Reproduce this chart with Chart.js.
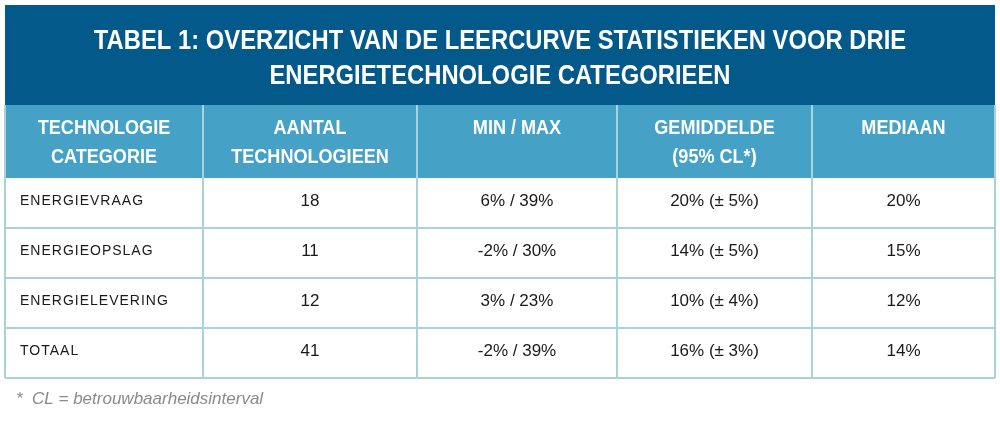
<!DOCTYPE html>
<html>
<head>
<meta charset="utf-8">
<script src="https://cdn.jsdelivr.net/npm/chart.js@4/dist/chart.umd.min.js"></script>
<style>
  html, body { margin: 0; padding: 0; background: #fff; }
  #wrap { width: 1000px; height: 421px; }
</style>
</head>
<body>
<div id="wrap"><canvas id="tabel"></canvas></div>
<script>
// table content
const titleLines = ["TABEL 1: OVERZICHT VAN DE LEERCURVE STATISTIEKEN VOOR DRIE", "ENERGIETECHNOLOGIE CATEGORIEEN"];
const headers = [["TECHNOLOGIE", "CATEGORIE"], ["AANTAL", "TECHNOLOGIEEN"], ["MIN / MAX"], ["GEMIDDELDE", "(95% CL*)"], ["MEDIAAN"]];
const categories = ["ENERGIEVRAAG", "ENERGIEOPSLAG", "ENERGIELEVERING", "TOTAAL"];
const aantal = ["18", "11", "12", "41"];
const minMax = ["6% / 39%", "-2% / 30%", "3% / 23%", "-2% / 39%"];
const gemiddelde = ["20% (± 5%)", "14% (± 5%)", "10% (± 4%)", "16% (± 3%)"];
const mediaan = ["20%", "15%", "12%", "14%"];
const footnote = "*  CL = betrouwbaarheidsinterval";

// layout (in scale units = page pixels)
const colEdges = [5, 203, 417, 617, 812, 995];
const titleTop = 5, headTop = 105, bodyTop = 178, rowH = 50;

// draw text squeezed horizontally (no narrow font installed)
function narrowText(ctx, text, x, y, sx) {
  ctx.save();
  ctx.translate(x, y);
  ctx.scale(sx, 1);
  ctx.fillText(text, 0, 0);
  ctx.restore();
}

const tablePlugin = {
  id: 'tablePlugin',
  afterDraw(chart) {
    const ctx = chart.ctx;
    const xs = chart.scales.x, ys = chart.scales.y;
    const px = v => xs.getPixelForValue(v);
    const py = v => ys.getPixelForValue(v);
    const L = px(colEdges[0]), R = px(colEdges[colEdges.length - 1]);
    const bodyBottom = bodyTop + rowH * categories.length;

    ctx.save();
    // title band
    ctx.fillStyle = '#03598a';
    ctx.fillRect(L, py(titleTop), R - L, py(headTop) - py(titleTop));
    ctx.fillStyle = '#ffffff';
    ctx.textAlign = 'center';
    ctx.textBaseline = 'middle';
    ctx.font = 'bold 28px "Liberation Sans", Arial, sans-serif';
    narrowText(ctx, titleLines[0], (L + R) / 2, py(41), 0.85);
    narrowText(ctx, titleLines[1], (L + R) / 2, py(76), 0.85);

    // header row
    ctx.fillStyle = '#45a1c5';
    ctx.fillRect(L, py(headTop), R - L, py(bodyTop) - py(headTop));
    ctx.fillStyle = '#ffffff';
    ctx.font = 'bold 21px "Liberation Sans", Arial, sans-serif';
    headers.forEach((h, i) => {
      const cx = (px(colEdges[i]) + px(colEdges[i + 1])) / 2;
      h.forEach((t, j) => narrowText(ctx, t, cx, py(headTop + 23 + j * 29), 0.86));
    });

    // grid lines
    ctx.strokeStyle = '#a9d2da';
    ctx.lineWidth = 2;
    ctx.beginPath();
    colEdges.forEach(x => {
      ctx.moveTo(px(x), py(headTop));
      ctx.lineTo(px(x), py(bodyBottom));
    });
    for (let r = 1; r <= categories.length; r++) {
      ctx.moveTo(L, py(bodyTop + r * rowH));
      ctx.lineTo(R, py(bodyTop + r * rowH));
    }
    ctx.stroke();

    // body
    const cols = [aantal, minMax, gemiddelde, mediaan];
    categories.forEach((c, r) => {
      const cy = py(bodyTop + r * rowH + rowH / 2 - 2);
      ctx.fillStyle = '#1a1a1a';
      ctx.textAlign = 'left';
      ctx.font = '14px "Liberation Sans", Arial, sans-serif';
      ctx.letterSpacing = '1px';
      ctx.fillText(c, px(20), cy);
      ctx.letterSpacing = '0px';
      ctx.textAlign = 'center';
      ctx.font = '17px "Liberation Sans", Arial, sans-serif';
      cols.forEach((arr, i) => {
        const cx = (px(colEdges[i + 1]) + px(colEdges[i + 2])) / 2;
        ctx.fillText(arr[r], cx, cy);
      });
    });

    // footnote
    ctx.textAlign = 'left';
    ctx.fillStyle = '#8a8a8a';
    ctx.font = 'italic 17px "Liberation Sans", Arial, sans-serif';
    ctx.fillText(footnote, px(16), py(399));
    ctx.restore();
  }
};

new Chart(document.getElementById('tabel'), {
  type: 'scatter',
  data: { datasets: [{ data: [] }] },
  options: {
    responsive: true,
    maintainAspectRatio: false,
    animation: false,
    layout: { padding: 0 },
    plugins: { legend: { display: false }, tooltip: { enabled: false } },
    scales: {
      x: { type: 'linear', min: 0, max: 1000, display: false },
      y: { type: 'linear', min: 0, max: 421, reverse: true, display: false }
    }
  },
  plugins: [tablePlugin]
});
</script>
</body>
</html>
